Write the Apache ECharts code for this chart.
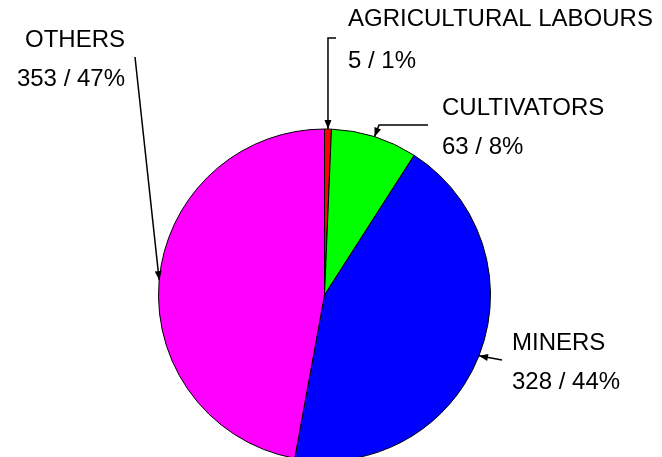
<!DOCTYPE html>
<html>
<head>
<meta charset="utf-8">
<script src="https://cdn.jsdelivr.net/npm/echarts@6/dist/echarts.min.js"></script>
<style>
  html, body { margin: 0; padding: 0; background: #fff; }
  #chart { width: 662px; height: 457px; }
</style>
</head>
<body>
<div id="chart"></div>
<script>
const names = ['AGRICULTURAL LABOURS', 'CULTIVATORS', 'MINERS', 'OTHERS']
const values = [5, 63, 328, 353]
const colors = ['#ff0000', '#00ff00', '#0000ff', '#ff00ff']

// pie geometry (px)
const cx = 324.5, cy = 295, r = 166

// where each label block sits
const labelSpots = [
  { x: 348, y: -2, align: 'left', lh: 42.5 },
  { x: 442, y: 89, align: 'left', lh: 39 },
  { x: 512, y: 324, align: 'left', lh: 39 },
  { x: 125, y: 20.5, align: 'right', lh: 39 }
]

const total = values.reduce((a, b) => a + b, 0)

// point on the rim at the middle of slice i (start at 12 o'clock, clockwise)
const rimPoint = (i) => {
  let before = 0
  for (let j = 0; j < i; j++) before += values[j]
  const a = (before + values[i] / 2) / total * Math.PI * 2
  return [cx + r * Math.sin(a), cy - r * Math.cos(a)]
}

const leaderPaths = () => {
  const t0 = rimPoint(0), t1 = rimPoint(1), t2 = rimPoint(2), t3 = rimPoint(3)
  return [
    [[336, 38], [t0[0], 38], t0],
    [[428, 125], [379, 125], t1],
    [[502, 360], t2],
    [[135, 57], t3]
  ]
}

const arrowHead = (from, tip) => {
  const dx = tip[0] - from[0], dy = tip[1] - from[1]
  const len = Math.hypot(dx, dy)
  const ux = dx / len, uy = dy / len
  const bx = tip[0] - ux * 9, by = tip[1] - uy * 9
  return [tip, [bx - uy * 3.5, by + ux * 3.5], [bx + uy * 3.5, by - ux * 3.5]]
}

const graphics = []
leaderPaths().forEach(pts => {
  graphics.push({
    type: 'polyline',
    shape: { points: pts },
    style: { stroke: '#000', lineWidth: 1.5, fill: null },
    z: 10
  })
  graphics.push({
    type: 'polygon',
    shape: { points: arrowHead(pts[pts.length - 2], pts[pts.length - 1]) },
    style: { fill: '#000' },
    z: 10
  })
})

const chart = echarts.init(document.getElementById('chart'))
chart.setOption({
  animation: false,
  backgroundColor: '#fff',
  series: [{
    type: 'pie',
    center: [cx, cy],
    radius: r,
    startAngle: 90,
    clockwise: true,
    percentPrecision: 0,
    avoidLabelOverlap: false,
    itemStyle: { borderColor: '#000', borderWidth: 1 },
    emphasis: { disabled: true },
    label: {
      show: true,
      position: 'outside',
      formatter: '{b}\n{c} / {d}%',
      color: '#000',
      fontFamily: 'Liberation Sans, Arial, sans-serif',
      fontSize: 24
    },
    labelLine: { show: false },
    labelLayout: (p) => {
      const s = labelSpots[p.dataIndex]
      return { x: s.x, y: s.y, align: s.align, verticalAlign: 'top' }
    },
    data: names.map((n, i) => ({
      name: n,
      value: values[i],
      itemStyle: { color: colors[i] },
      label: { lineHeight: labelSpots[i].lh }
    }))
  }],
  graphic: graphics
})
</script>
</body>
</html>
